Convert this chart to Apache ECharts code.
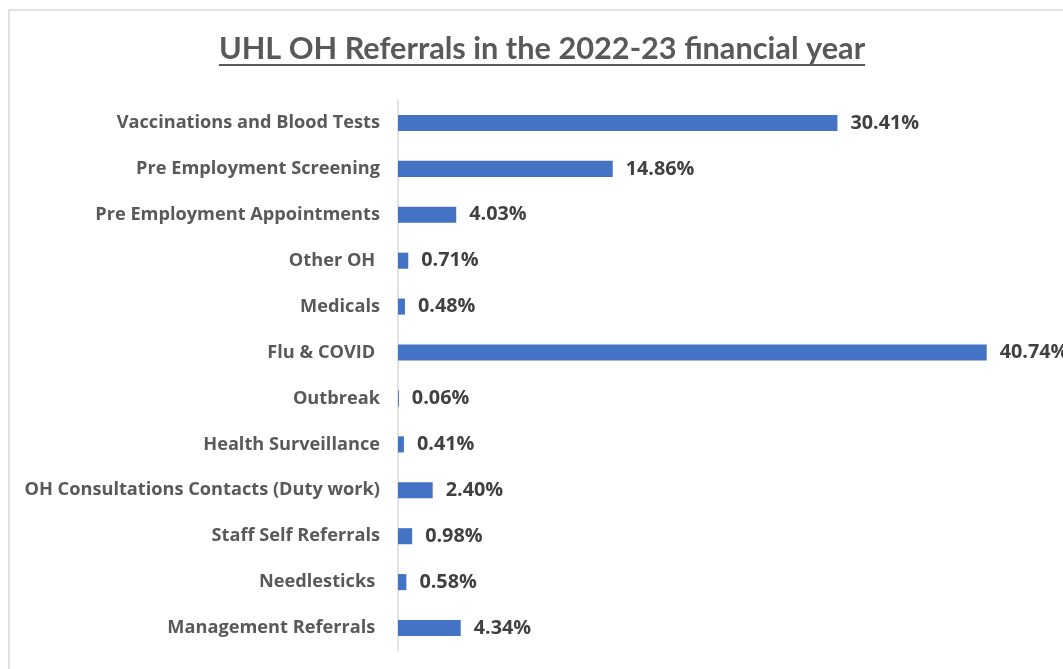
<!DOCTYPE html>
<html>
<head>
<meta charset="utf-8">
<script src="https://cdn.jsdelivr.net/npm/echarts@6/dist/echarts.min.js"></script>
<style>
  html, body { margin: 0; padding: 0; background: #fff; }
  #chart { width: 1063px; height: 669px; }
</style>
</head>
<body>
<div id="chart"></div>
<script>
// Referral categories, top to bottom
const categories = [
  'Vaccinations and Blood Tests',
  'Pre Employment Screening',
  'Pre Employment Appointments',
  'Other OH ',
  'Medicals',
  'Flu & COVID ',
  'Outbreak',
  'Health Surveillance',
  'OH Consultations Contacts (Duty work)',
  'Staff Self Referrals',
  'Needlesticks ',
  'Management Referrals '
];
// Share of referrals, percent
const shares = [30.41, 14.86, 4.03, 0.71, 0.48, 40.74, 0.06, 0.41, 2.40, 0.98, 0.58, 4.34];

const titleText = 'UHL OH Referrals in the 2022-23 financial year';

const TITLE_FONT = 'Lato, "Open Sans", sans-serif';
const LABEL_FONT = '"Open Sans", Lato, sans-serif';
const titleSize = 30.7;
const titleX = 542;

function draw() {
  const titleFont = 'bold ' + titleSize + 'px ' + TITLE_FONT;
  // measure title width for the underline
  const ctx = document.createElement('canvas').getContext('2d');
  ctx.font = titleFont;
  const titleW = ctx.measureText(titleText).width;

  const chart = echarts.init(document.getElementById('chart'), null, { renderer: 'canvas' });
  chart.setOption({
    backgroundColor: '#ffffff',
    animation: false,
    graphic: [
      {
        type: 'rect', silent: true,
        shape: { x: 9, y: 10, width: 1100, height: 700 },
        style: { fill: null, stroke: '#d9d9d9', lineWidth: 1.5 }
      },
      {
        type: 'text', silent: true,
        x: titleX, y: 34,
        style: {
          text: titleText, font: titleFont, fill: '#595959',
          align: 'center', verticalAlign: 'top'
        }
      },
      {
        type: 'line', silent: true,
        shape: { x1: titleX - titleW / 2, y1: 65, x2: titleX + titleW / 2, y2: 65 },
        style: { stroke: '#595959', lineWidth: 2 }
      }
    ],
    grid: { left: 398, top: 100, right: 0, height: 551, containLabel: false },
    xAxis: {
      type: 'value', min: 0, max: 46.02,
      show: false,
      splitLine: { show: false }
    },
    yAxis: {
      type: 'category',
      inverse: true,
      data: categories,
      axisLine: { show: true, lineStyle: { color: '#d9d9d9', width: 1.5 } },
      axisTick: { show: false },
      axisLabel: {
        margin: 18,
        fontFamily: LABEL_FONT, fontSize: 18.2, fontWeight: 'bold', color: '#595959'
      }
    },
    series: [{
      type: 'bar',
      data: shares,
      barCategoryGap: '65%',
      itemStyle: { color: '#4472C4' },
      label: {
        show: true, position: 'right', distance: 13,
        formatter: p => p.value.toFixed(2) + '%',
        fontFamily: LABEL_FONT, fontSize: 19.8, fontWeight: 'bold', color: '#404040'
      }
    }]
  });
}

// wait for the local fonts so text metrics are right
Promise.all([
  document.fonts.load('bold 30px Lato'),
  document.fonts.load('bold 18px "Open Sans"')
]).then(draw, draw);
</script>
</body>
</html>
